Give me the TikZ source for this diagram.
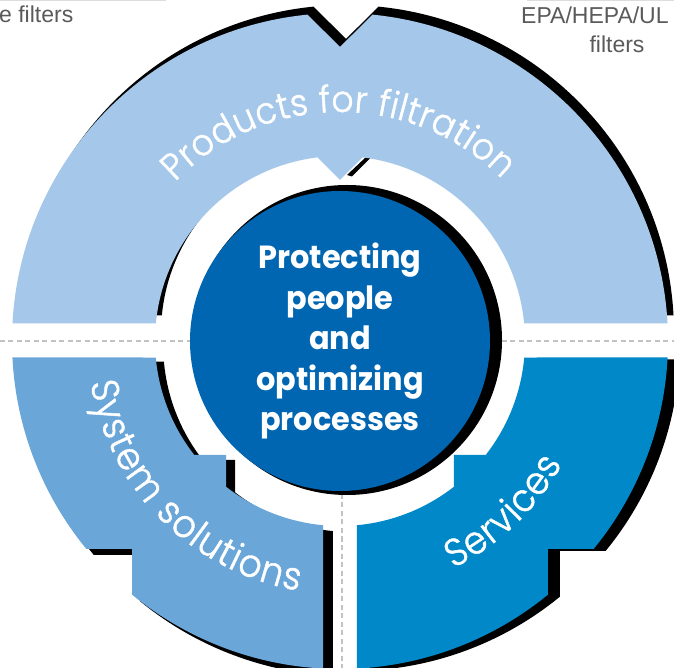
\documentclass[tikz,border=0pt]{standalone}
\usepackage{fontspec}
\setmainfont{Liberation Sans}
\newfontfamily\ringfont[FakeStretch=0.93, FakeBold=1.2]{Poppins Light}
\newfontfamily\hubfont[FakeStretch=0.95]{Poppins}
\usetikzlibrary{decorations.text}

\definecolor{prodblue}{HTML}{A5C8EA}
\definecolor{sysblue}{HTML}{6BA6D9}
\definecolor{servblue}{HTML}{0088C9}
\definecolor{hubblue}{HTML}{0066B2}
\definecolor{labelgray}{HTML}{5A5A5A}
\definecolor{guidegray}{HTML}{C2C2C2}
\definecolor{boxgray}{HTML}{DDDDDD}

\newcommand\ringtype{\ringfont\fontsize{37}{40}\selectfont}
\newcommand\ringtypelarge{\ringfont\fontsize{38.5}{42}\selectfont}

% ring segments, centre of the ring at the origin, 1 unit = 1pt
\newcommand\productspath{(3.06:328) arc[start angle=3.06, end angle=84.33, radius=328]
  -- (0,294) -- (95.67:328) arc[start angle=95.67, end angle=176.94, radius=328]
  -- (174.57:185) arc[start angle=174.57, end angle=97.02, radius=185]
  -- (0,161) -- (82.98:185) arc[start angle=82.98, end angle=5.43, radius=185] -- cycle}
\newcommand\systempath{(182.88:328) arc[start angle=182.88, end angle=219.33, radius=328]
  -- (225:294) -- (230.67:328) arc[start angle=230.67, end angle=267.03, radius=328]
  -- (264.73:185) arc[start angle=264.73, end angle=232.02, radius=185]
  -- (225:161) -- (217.98:185) arc[start angle=217.98, end angle=185.12, radius=185] -- cycle}
\newcommand\servicespath{(272.97:328) arc[start angle=272.97, end angle=309.33, radius=328]
  -- (315:294) -- (320.67:328) arc[start angle=320.67, end angle=357.12, radius=328]
  -- (354.88:185) arc[start angle=354.88, end angle=322.02, radius=185]
  -- (315:161) -- (307.98:185) arc[start angle=307.98, end angle=275.27, radius=185] -- cycle}

\begin{document}
\begin{tikzpicture}[x=1pt, y=1pt,
  guide/.style={guidegray, line width=1.2pt, dash pattern=on 5pt off 3.5pt},
  boxedge/.style={boxgray, line width=1.5pt},
  labeltext/.style={font=\fontsize{23}{28}\selectfont, text=labelgray, inner sep=0pt},
  ringlabel/.style 2 args={decorate, decoration={text along path, text align={fit to path},
      text color=white, text={|#1|#2}}},
  hub/.style={circle, fill=hubblue, minimum size=300pt, inner sep=0pt, text=white,
      align=center, font=\hubfont\bfseries\fontsize{32}{40.5}\selectfont},
]
\useasboundingbox (-340,-327) rectangle (334,341);
\clip (-340,-327) rectangle (334,341);

% dashed guides between the segments
\coordinate (gl) at (-340,0);
\coordinate (gr) at (334,0);
\coordinate (gt) at (2,0);
\coordinate (gb) at (2,-327);
\draw[guide] (gl) -- (gr);
\draw[guide] (gt) -- (gb);

% top edges of the label boxes
\coordinate (bl1) at (-340,340.5);
\coordinate (bl2) at (-174,340.5);
\coordinate (br1) at (187,340.5);
\coordinate (br2) at (334,340.5);
\draw[boxedge] (bl1) -- (bl2);
\draw[boxedge] (br1) -- (br2);

% drop shadows, one offset per segment
\fill[black, shift={(6,8)}] \productspath;
\fill[black] (7,166) -- (26,184) -- (31,183.5) -- (12,164.5) -- cycle;
\fill[black, shift={(10,-4)}, scale=1.01] \systempath;
\fill[black, shift={(12,-2)}] \servicespath;
\fill[black] (7,1) circle[radius=155];

% ring segments
\fill[prodblue] \productspath;
\fill[sysblue] \systempath;
\fill[servblue] \servicespath;

% segment titles
\path[ringlabel={\ringtype}{Products for filtration}] (136:229) arc[start angle=136, end angle=45, radius=229];
\path[ringlabel={\ringtypelarge}{System solutions}] (189.5:253) arc[start angle=189.5, end angle=260.6, radius=253];
\path[ringlabel={\ringtypelarge}{Services}] (296.5:254) arc[start angle=296.5, end angle=331, radius=254];

% centre
\node[hub] (core) at (0,0) {Protecting\\people\\and\\optimizing\\processes};

% filter labels
\node[labeltext, anchor=base east] (coarse) at (-266.5,318) {e filters};
\node[labeltext, anchor=base west] (epa) at (181,317) {EPA/HEPA/UL};
\node[labeltext, anchor=base] (epafilters) at (277,288) {filters};
\end{tikzpicture}
\end{document}
